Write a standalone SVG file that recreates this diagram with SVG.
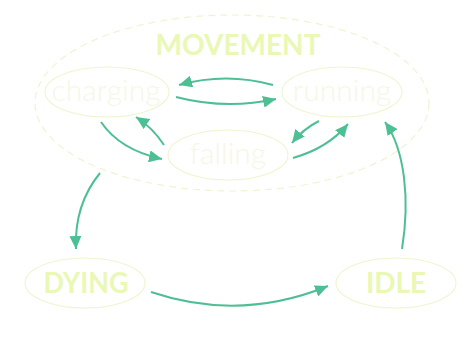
<svg xmlns="http://www.w3.org/2000/svg" width="474" height="355" viewBox="0 0 474 355">
<style>
.node{fill:none;stroke:#f0f4cf;stroke-width:1.1}
.group{fill:none;stroke:#f1f2d4;stroke-width:1.2;stroke-dasharray:7 5}
.thin{font-family:Lato,"Open Sans","Liberation Sans",sans-serif;font-weight:300;font-size:30px;fill:#f5f7e6;text-anchor:middle}
.bold{font-family:Lato,"Open Sans","Liberation Sans",sans-serif;font-weight:700;font-size:28px;fill:#e9f8b4;text-anchor:middle}
.edge{fill:none;stroke:#4dbf94;stroke-width:2}
</style>
<defs>
<marker id="ah" markerUnits="userSpaceOnUse" markerWidth="14" markerHeight="12" refX="13" refY="6" orient="auto">
<path d="M0,0 L13,6 L0,12 z" fill="#4dbf94"/>
</marker>
</defs>
<rect width="474" height="355" fill="#ffffff"/>
<g id="movement">
<ellipse class="group" cx="232" cy="103" rx="197" ry="88"/>
<text class="bold" x="238" y="55">MOVEMENT</text>
</g>
<g id="charging">
<ellipse class="node" cx="107" cy="92" rx="62" ry="25"/>
<text class="thin" x="106" y="101">charging</text>
</g>
<g id="running">
<ellipse class="node" cx="342" cy="92" rx="60" ry="25"/>
<text class="thin" x="342" y="101">running</text>
</g>
<g id="falling">
<ellipse class="node" cx="228" cy="155" rx="60" ry="25"/>
<text class="thin" x="228" y="164">falling</text>
</g>
<g id="dying">
<ellipse class="node" cx="85" cy="283" rx="60" ry="25"/>
<text class="bold" x="86" y="293" textLength="85" lengthAdjust="spacingAndGlyphs">DYING</text>
</g>
<g id="idle">
<ellipse class="node" cx="396" cy="283" rx="60" ry="25"/>
<text class="bold" x="396" y="293">IDLE</text>
</g>
<g id="connectors">
<path class="edge" marker-end="url(#ah)" d="M273,85 Q226,72 179,85"/>
<path class="edge" marker-end="url(#ah)" d="M176,97 Q226,110 276,99"/>
<path class="edge" marker-end="url(#ah)" d="M101,122 Q120,150 162,159"/>
<path class="edge" marker-end="url(#ah)" d="M164,145 Q153,128 136,117"/>
<path class="edge" marker-end="url(#ah)" d="M319,121 Q303,129 292,143"/>
<path class="edge" marker-end="url(#ah)" d="M293,158 Q328,148 348,124"/>
<path class="edge" marker-end="url(#ah)" d="M402,249 C410,200 405,150 385,122"/>
<path class="edge" marker-end="url(#ah)" d="M100,173 Q74,205 76,249"/>
<path class="edge" marker-end="url(#ah)" d="M151,292 Q240,322 328,286"/>
</g>
</svg>
